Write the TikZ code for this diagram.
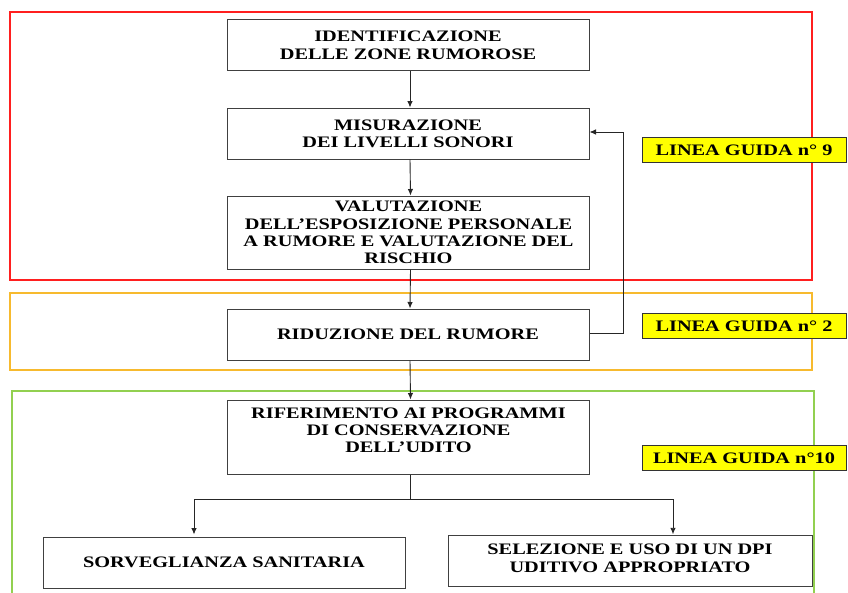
\documentclass[tikz,border=0pt]{standalone}
\usepackage{fontspec}
\setmainfont{Liberation Serif}[FakeStretch=1.27]
\usetikzlibrary{arrows.meta}
\definecolor{fred}{HTML}{FF1F1F}
\definecolor{forange}{HTML}{F7BA2E}
\definecolor{fgreen}{HTML}{92D050}
\definecolor{tagyellow}{HTML}{FFFF00}
\begin{document}
\begin{tikzpicture}[x=1pt,y=-1pt,
  txt/.style={inner sep=0pt, align=center, text=black, font=\fontsize{16}{17.2}\selectfont\bfseries},
  box/.style={txt, draw=black!75, line width=1pt, minimum width=362pt, minimum height=51pt},
  tag/.style={draw=black!80, fill=tagyellow, line width=1pt, minimum width=204pt,
    minimum height=24.5pt, inner sep=0pt, text=black, font=\fontsize{16}{17}\selectfont\bfseries},
  frame/.style={line width=2pt},
  arr/.style={-{Latex[length=6.5pt,width=5.5pt]}, line width=0.9pt, black!85},
  ln/.style={line width=0.9pt, black!85}]
\useasboundingbox (0,0) rectangle (848,592);
\fill[white] (0,0) rectangle (848,592);
% frames
\draw[frame, fred] (9.7,12) rectangle (812,280);
\draw[frame, forange] (10,293) rectangle (812,370);
\draw[frame, fgreen] (12,391) rectangle (814,610);
% boxes
\node[box] (b1) at (408,45.2) {IDENTIFICAZIONE\\DELLE ZONE RUMOROSE};
\node[box] (b2) at (408,133.5) {MISURAZIONE\\DEI LIVELLI SONORI};
\node[box, minimum height=73pt] (b3) at (408.5,232.5) {VALUTAZIONE\\DELL’ESPOSIZIONE PERSONALE\\A RUMORE E VALUTAZIONE DEL\\RISCHIO};
\node[box] (b4) at (408,334.5) {RIDUZIONE DEL RUMORE};
\node[box, minimum height=74pt] (b5) at (408.5,437) {};
\node[txt] (b5t) at ([yshift=6.5pt]b5.center) {RIFERIMENTO AI PROGRAMMI\\DI CONSERVAZIONE\\DELL’UDITO};
\node[box] (b6) at (224,562.5) {SORVEGLIANZA SANITARIA};
\node[box, minimum width=364pt] (b7) at (630,561.3) {};
\node[txt] (b7t) at ([yshift=3pt]b7.center) {SELEZIONE E USO DI UN DPI\\UDITIVO APPROPRIATO};
% tags
\node[tag] (t9) at (744,150) {LINEA GUIDA n° 9};
\node[tag] (t2) at (744,325.8) {LINEA GUIDA n° 2};
\node[tag] (t10) at (744,458) {LINEA GUIDA n°10};
% connectors
\draw[arr] ([xshift=2pt]b1.south) -- ([xshift=2pt]b2.north);
\draw[arr] ([xshift=2pt]b2.south) -- ([xshift=2pt]b3.north);
\draw[arr] ([xshift=2pt]b3.south) -- ([xshift=2pt]b4.north);
\draw[arr] ([xshift=2pt]b4.south) -- ([xshift=2pt]b5.north);
\draw[arr] ([yshift=1.5pt]b4.east) -- ++(34,0) |- ([yshift=1.5pt]b2.east);
\coordinate (j) at (410.5,499);
\draw[ln] ([xshift=2pt]b5.south) -- (j);
\draw[arr] (j) -| ([xshift=-30pt,yshift=2pt]b6.north);
\draw[arr] (j) -| ([xshift=43pt,yshift=1pt]b7.north);
\end{tikzpicture}
\end{document}
